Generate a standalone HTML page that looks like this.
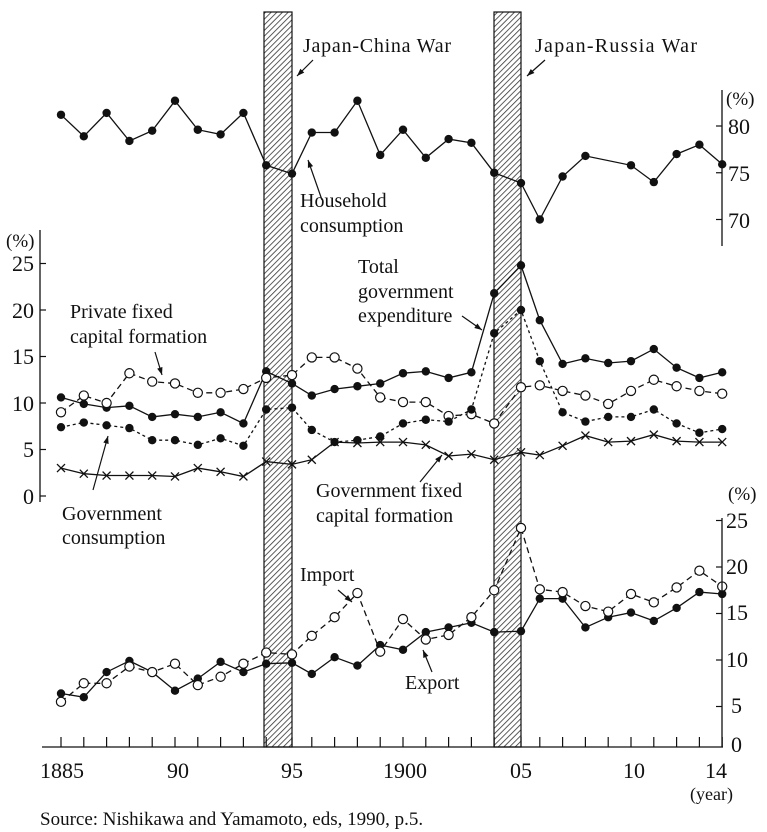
<!DOCTYPE html>
<html><head><meta charset="utf-8">
<style>
html,body{margin:0;padding:0;background:#fff;}
svg{display:block;}
text{font-family:"Liberation Serif",serif;fill:#111;}
</style></head>
<body>
<svg id="s" width="767" height="832" viewBox="0 0 767 832" xmlns="http://www.w3.org/2000/svg">
<defs>
<pattern id="h" width="4" height="4" patternUnits="userSpaceOnUse" patternTransform="rotate(45)">
<rect width="4" height="4" fill="#fff"/><line x1="0" y1="0" x2="0" y2="4" stroke="#333" stroke-width="1.6"/>
</pattern>
</defs>
<rect x="264" y="12" width="28" height="735" fill="url(#h)" stroke="#111" stroke-width="1.2"/>
<rect x="494" y="12" width="27" height="735" fill="url(#h)" stroke="#111" stroke-width="1.2"/>
<g id="g" stroke="#111" fill="none"></g>
<g font-size="20">
<text x="303" y="52" textLength="148">Japan-China War</text>
<text x="535" y="52" textLength="162">Japan-Russia War</text>
<text x="300" y="207">Household</text>
<text x="300" y="232">consumption</text>
<text x="70" y="318">Private fixed</text>
<text x="70" y="343">capital formation</text>
<text x="358" y="273">Total</text>
<text x="358" y="298">government</text>
<text x="358" y="322">expenditure</text>
<text x="316" y="497">Government fixed</text>
<text x="316" y="522">capital formation</text>
<text x="62" y="520">Government</text>
<text x="62" y="544">consumption</text>
<text x="300" y="581">Import</text>
<text x="405" y="689">Export</text>
</g>
<g font-size="22">
<text x="728" y="134">80</text><text x="728" y="181">75</text><text x="728" y="228">70</text>
<text x="726" y="105" font-size="19">(%)</text>
<text x="6" y="247" font-size="19">(%)</text>
<g text-anchor="end">
<text x="34" y="271">25</text><text x="34" y="318">20</text><text x="34" y="364">15</text>
<text x="34" y="411">10</text><text x="34" y="457">5</text><text x="34" y="504">0</text>
</g>
<text x="726" y="528">25</text><text x="726" y="574">20</text><text x="726" y="620">15</text>
<text x="726" y="667">10</text><text x="731" y="713">5</text><text x="731" y="752">0</text>
<text x="728" y="500" font-size="19">(%)</text>
<g text-anchor="middle">
<text x="62" y="778">1885</text><text x="178" y="778">90</text><text x="292" y="778">95</text>
<text x="405" y="778">1900</text><text x="521" y="778">05</text><text x="634" y="778">10</text>
<text x="716" y="778">14</text>
</g>
<text x="690" y="800" font-size="18">(year)</text>
<text x="40" y="825" font-size="19">Source: Nishikawa and Yamamoto, eds, 1990, p.5.</text>
</g>
</svg>
<script>
(function(){
var g=document.getElementById('g'),NS='http://www.w3.org/2000/svg';
function X(i){var y=1885+i;if(y==1895)return 292;if(y==1905)return 521;return 61+22.8*i;}
function el(n,a){var e=document.createElementNS(NS,n);for(var k in a)e.setAttribute(k,a[k]);g.appendChild(e);return e;}
function series(vals,fy,mk,dash){var pts=[];vals.forEach(function(v,i){if(v!=null)pts.push([X(i),fy(v)]);});
 var a={points:pts.map(function(p){return p[0].toFixed(1)+','+p[1].toFixed(1)}).join(' '),'stroke-width':1.3};
 if(dash)a['stroke-dasharray']=dash;el('polyline',a);
 pts.forEach(function(p){if(mk=='f')el('circle',{cx:p[0],cy:p[1],r:4.2,fill:'#111',stroke:'none'});
  else if(mk=='o')el('circle',{cx:p[0],cy:p[1],r:4.6,fill:'#fff','stroke-width':1.2});
  else {el('line',{x1:p[0]-4,y1:p[1]-4,x2:p[0]+4,y2:p[1]+4,'stroke-width':1.3});el('line',{x1:p[0]-4,y1:p[1]+4,x2:p[0]+4,y2:p[1]-4,'stroke-width':1.3});}});}
var fTop=function(v){return 126+(80-v)*9.35},fMid=function(v){return 496-9.3*v},fBot=function(v){return 753-9.3*v};
series([81.2,78.9,81.4,78.4,79.5,82.7,79.6,79.1,81.4,75.8,74.9,79.3,79.3,82.7,76.9,79.6,76.6,78.6,78.2,75.0,73.9,70.0,74.6,76.8,null,75.8,74.0,77.0,78.0,75.9],fTop,'f');
series([10.6,9.9,9.5,9.7,8.5,8.8,8.5,9.0,7.8,13.4,12.1,10.8,11.5,11.8,12.1,13.2,13.4,12.7,13.3,21.8,24.8,18.9,14.2,14.8,14.3,14.5,15.8,13.8,12.7,13.3],fMid,'f');
series([9.0,10.8,10.0,13.2,12.3,12.1,11.1,11.1,11.5,12.7,13.0,14.9,14.9,13.7,10.6,10.1,10.1,8.6,8.8,7.8,11.7,11.9,11.3,10.8,9.9,11.3,12.5,11.8,11.3,11.0],fMid,'o','6,4');
series([7.4,7.9,7.6,7.3,6.0,6.0,5.5,6.2,5.4,9.3,9.5,7.1,5.8,6.0,6.4,7.8,8.2,8.0,9.3,17.5,20.0,14.5,9.0,8.0,8.5,8.5,9.3,7.8,6.8,7.2],fMid,'f','3,3');
series([3.0,2.4,2.2,2.2,2.2,2.1,3.0,2.6,2.1,3.7,3.4,3.9,5.8,5.7,5.8,5.8,5.5,4.3,4.5,3.9,4.7,4.4,5.4,6.5,5.8,5.9,6.6,5.9,5.8,5.8],fMid,'x');
series([6.4,6.0,8.7,9.9,8.7,6.7,8.0,9.8,8.7,9.6,9.7,8.5,10.3,9.4,11.6,11.1,13.0,13.5,14.0,13.0,13.1,16.6,16.6,13.5,14.6,15.1,14.2,15.6,17.3,17.1],fBot,'f');
series([5.5,7.5,7.5,9.3,8.7,9.6,7.3,8.2,9.6,10.8,10.6,12.6,14.6,17.2,10.9,14.4,12.2,12.7,14.6,17.5,24.2,17.6,17.3,15.8,15.2,17.1,16.2,17.8,19.6,17.9],fBot,'o','6,4');
el('line',{x1:722,y1:90,x2:722,y2:246,'stroke-width':1.3});
[80,75,70].forEach(function(v){el('line',{x1:716,y1:fTop(v),x2:722,y2:fTop(v),'stroke-width':1.2});});
el('line',{x1:40,y1:230,x2:40,y2:502,'stroke-width':1.3});
[0,5,10,15,20,25].forEach(function(v){el('line',{x1:40,y1:fMid(v),x2:46,y2:fMid(v),'stroke-width':1.2});});
el('line',{x1:42,y1:747,x2:723,y2:747,'stroke-width':1.3});
el('line',{x1:722,y1:518,x2:722,y2:747,'stroke-width':1.3});
[5,10,15,20,25].forEach(function(v){el('line',{x1:716,y1:fBot(v),x2:722,y2:fBot(v),'stroke-width':1.2});});
for(var i=0;i<30;i++)el('line',{x1:X(i),y1:737,x2:X(i),y2:747,'stroke-width':1.2});
function arr(x1,y1,x2,y2){el('line',{x1:x1,y1:y1,x2:x2,y2:y2,'stroke-width':1.2});var a=Math.atan2(y2-y1,x2-x1),L=8;
 el('polygon',{points:x2+','+y2+' '+(x2-L*Math.cos(a-0.35))+','+(y2-L*Math.sin(a-0.35))+' '+(x2-L*Math.cos(a+0.35))+','+(y2-L*Math.sin(a+0.35)),fill:'#111',stroke:'none'});}
arr(313,60,297,76);arr(545,60,527,76);arr(322,200,308,160);arr(155,352,162,375);
arr(462,316,482,330);arr(420,482,442,455);arr(93,490,108,436);arr(338,590,352,602);arr(432,672,423,650);
})();
</script>
</body></html>
